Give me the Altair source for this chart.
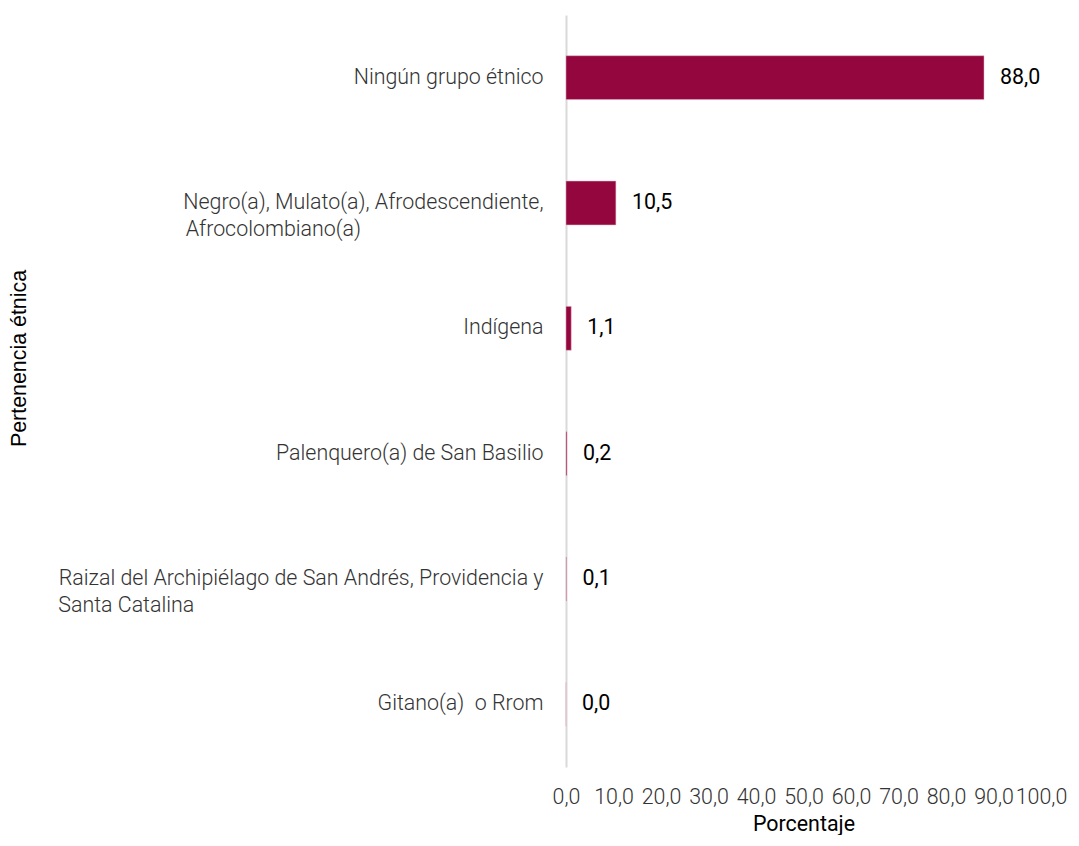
import altair as alt
import pandas as pd

categories = [
    "Ningún grupo étnico",
    "Negro(a), Mulato(a), Afrodescendiente,\nAfrocolombiano(a)",
    "Indígena",
    "Palenquero(a) de San Basilio",
    "Raizal del Archipiélago de San Andrés, Providencia y\nSanta Catalina",
    "Gitano(a)  o Rrom",
]
values = [88.0, 10.5, 1.1, 0.2, 0.1, 0.0]
x_ticks = [0, 10, 20, 30, 40, 50, 60, 70, 80, 90, 100]

# second lines of wrapped labels are left-aligned under the first line
NB = "\u00a0"
ZW = "\u200b"
pad_second_line = {1: 35, 4: 67}


def display_label(i, text):
    text = text.replace("  ", NB + " ")
    lines = text.split("\n")
    if len(lines) > 1:
        lines[1] = lines[1] + NB * pad_second_line.get(i, 0) + ZW
    return "|".join(lines)


df = pd.DataFrame({
    "cat": [display_label(i, c) for i, c in enumerate(categories)],
    "val": values,
})
order = list(df["cat"])

color = "#94063E"
FS = 21.4

base = alt.Chart(df).encode(
    y=alt.Y(
        "cat:N",
        sort=order,
        scale=alt.Scale(paddingInner=0.65, paddingOuter=0.325),
        axis=alt.Axis(
            title="Pertenencia étnica",
            titleFont="Liberation Sans",
            titleFontSize=FS,
            titleFontWeight="normal",
            titleColor="#000000",
            titleX=-547,
            titleY=343,
            titleBaseline="middle",
            titleAngle=270,
            labelExpr="split(datum.label, '|')",
            labelFont="Roboto",
            labelFontWeight=300,
            labelFontSize=FS,
            labelColor="#333333",
            labelLineHeight=27,
            labelPadding=23,
            labelLimit=700,
            ticks=False,
            domain=True,
            domainColor="#d9d9d9",
            domainWidth=2,
            grid=False,
        ),
    ),
    x=alt.X(
        "val:Q",
        scale=alt.Scale(domain=[0, 100], nice=False),
        axis=alt.Axis(
            title="Porcentaje",
            titleFont="Roboto",
            titleFontSize=FS,
            titleFontWeight="normal",
            titleColor="#000000",
            titlePadding=6,
            values=x_ticks,
            labelExpr="replace(format(datum.value, '.1f'), '.', ',')",
            labelFont="Roboto",
            labelFontWeight=300,
            labelFontSize=FS,
            labelColor="#333333",
            labelPadding=19,
            labelOverlap=False,
            labelFlush=False,
            ticks=False,
            domain=False,
            grid=False,
        ),
    ),
)

bars = base.mark_bar(color=color, stroke="#e3b3c4", strokeWidth=0.5)
labels = base.transform_calculate(
    lbl="replace(format(datum.val, '.1f'), '.', ',')"
).mark_text(
    align="left", baseline="middle", dx=16, font="Roboto", fontSize=FS, color="#000000"
).encode(text="lbl:N")

chart = (bars + labels).properties(
    width=475, height=752,
    padding={"left": 0, "top": 7, "right": 0, "bottom": 0},
).configure_view(stroke=None)

chart.save("out.html", embed_options={"renderer": "svg", "actions": False})
